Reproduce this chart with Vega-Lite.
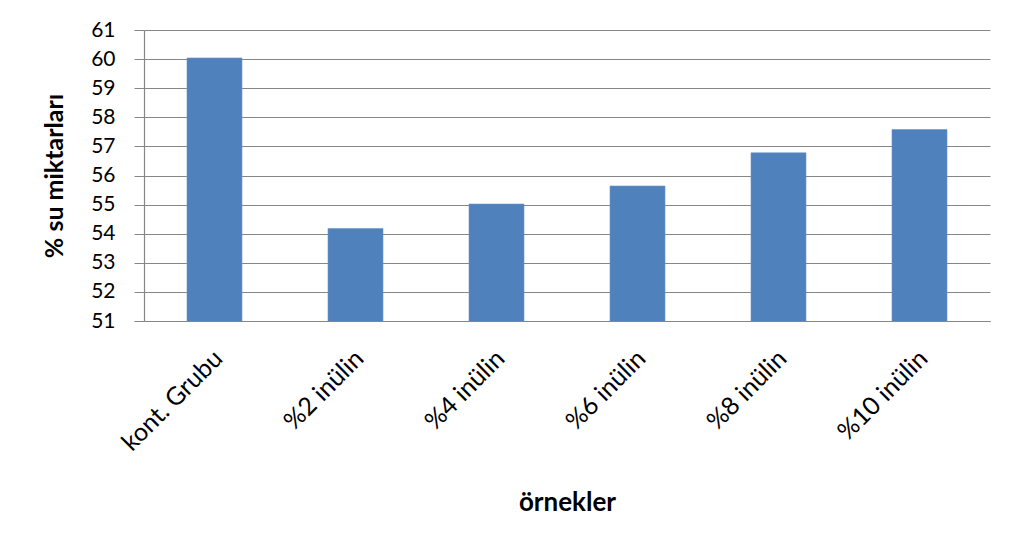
{
  "$schema": "https://vega.github.io/schema/vega-lite/v6.json",
  "width": 846,
  "height": 291,
  "autosize": {"type": "none"},
  "padding": {"left": 144, "top": 30, "right": 21, "bottom": 228},
  "background": "white",
  "data": {
    "values": [
      {"ornek": "kont. Grubu", "su": 60.04},
      {"ornek": "%2 inülin", "su": 54.18},
      {"ornek": "%4 inülin", "su": 55.02},
      {"ornek": "%6 inülin", "su": 55.64},
      {"ornek": "%8 inülin", "su": 56.78},
      {"ornek": "%10 inülin", "su": 57.58}
    ]
  },
  "mark": {"type": "bar", "color": "#4F81BD", "stroke": "#6b95c8", "strokeWidth": 0.6, "clip": true},
  "encoding": {
    "x": {
      "field": "ornek",
      "type": "nominal",
      "sort": null,
      "scale": {"paddingInner": 0.61, "paddingOuter": 0.305},
      "axis": {
        "title": "örnekler",
        "titleFont": "Lato",
        "titleFontSize": 26,
        "titleFontWeight": "bold",
        "titleColor": "#000000",
        "titlePadding": 34,
        "labelFont": "Lato",
        "labelFontSize": 25,
        "labelColor": "#000000",
        "labelAngle": -45,
        "labelAlign": "right",
        "labelBaseline": "middle",
        "labelPadding": 33,
        "labelOffset": 4,
        "ticks": false,
        "domainColor": "#868686",
        "domainWidth": 1.2
      }
    },
    "y": {
      "field": "su",
      "type": "quantitative",
      "scale": {"domain": [51, 61], "nice": false, "zero": false},
      "axis": {
        "title": "% su miktarları",
        "titleFont": "Lato",
        "titleFontSize": 25,
        "titleFontWeight": "bold",
        "titleColor": "#000000",
        "titlePadding": 23,
        "values": [51, 52, 53, 54, 55, 56, 57, 58, 59, 60, 61],
        "labelFont": "Lato",
        "labelFontSize": 21,
        "labelColor": "#000000",
        "labelPadding": 19,
        "tickSize": 10,
        "tickColor": "#868686",
        "grid": true,
        "gridColor": "#868686",
        "gridWidth": 1.2,
        "domainColor": "#868686",
        "domainWidth": 1.2
      }
    }
  },
  "config": {
    "view": {"stroke": null}
  }
}
